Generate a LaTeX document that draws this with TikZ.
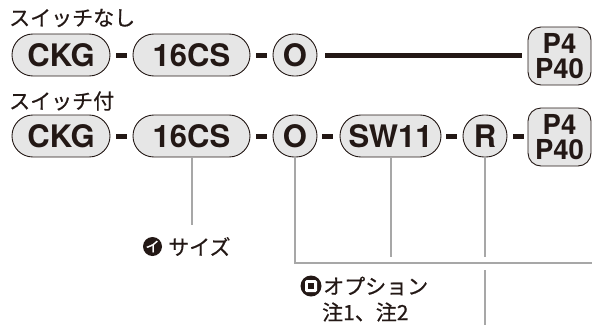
\documentclass[tikz,border=0pt]{standalone}
\usepackage{fontspec}
\setmainfont{TeX Gyre Heros}
\newfontfamily\jp{Noto Sans CJK JP}[FakeBold=0.6]
\newfontfamily\jpicon{Noto Sans CJK JP}[FakeBold=1.5]
\definecolor{ink}{HTML}{231815}
\definecolor{pillfill}{HTML}{E6E6E6}
\definecolor{guide}{HTML}{A7A7A7}
\tikzset{
  pill/.style={draw=ink, line width=0.9pt, fill=pillfill, rounded corners=20.9pt,
    minimum height=42pt, inner sep=0pt, text=ink,
    font=\bfseries\fontsize{31}{31}\selectfont},
  pbox/.style={draw=ink, line width=0.9pt, fill=pillfill, rounded corners=13pt,
    minimum width=63pt, minimum height=58pt, inner sep=0pt, align=center, text=ink,
    font=\bfseries\fontsize{27.5}{25.5}\selectfont},
  dashbar/.style={fill=ink, minimum width=11pt, minimum height=5pt, inner sep=0pt},
  gline/.style={draw=guide, line width=2pt},
  jptext/.style={font=\jp\fontsize{21}{21}\selectfont, text=ink, inner sep=0pt, anchor=west},
}
\begin{document}
\begin{tikzpicture}[x=1pt,y=-1pt]
\useasboundingbox (0,0) rectangle (592,325);
% titles
\node[jptext] (t1) at (9,18) {スイッチなし};
\node[jptext] (t2) at (9,101) {スイッチ付};
% row 1
\node[pill, minimum width=98pt] (c1) at (61,55) {CKG};
\node[dashbar] (d11) at (121.5,55) {};
\node[pill, minimum width=117pt] (s1) at (191.5,55) {16CS};
\node[dashbar] (d12) at (261,55) {};
\node[pill, minimum width=44pt] (o1) at (295,55) {O};
\node[pbox] (p1) at (559.5,56) {P4\\P40};
\draw[ink, line width=5pt, shorten <=8pt, shorten >=6pt] (o1.east) -- (o1.east -| p1.west);
% row 2
\node[pill, minimum width=98pt] (c2) at (61,136) {CKG};
\node[dashbar] (d21) at (121.5,136) {};
\node[pill, minimum width=117pt] (s2) at (191.5,136) {16CS};
\node[dashbar] (d22) at (261,136) {};
\node[pill, minimum width=44pt] (o2) at (295,136) {O};
\node[dashbar] (d23) at (327.5,136) {};
\node[pill, minimum width=101pt] (w2) at (390.5,136) {SW11};
\node[dashbar] (d24) at (451,136) {};
\node[pill, minimum width=44pt] (r2) at (485,136) {R};
\node[dashbar] (d25) at (518,136) {};
\node[pbox] (p2) at (559.5,137) {P4\\P40};
% guide lines
\coordinate (sEnd) at (0,225);
\coordinate (hLine) at (592,263);
\coordinate (gapTop) at (0,257);
\coordinate (gapBot) at (0,270);
\coordinate (bottom) at (0,325);
\draw[gline] (s2.south) -- (s2.south |- sEnd);
\draw[gline] (o2.south) |- (hLine);
\draw[gline] (w2.south) -- (w2.south |- gapTop);
\draw[gline] (r2.south) -- (r2.south |- gapTop);
\draw[gline] (r2.south |- gapBot) -- (r2.south |- bottom);
% label i
\node[circle, fill=ink, minimum size=19pt, inner sep=0pt, text=white,
  font=\jpicon\fontsize{14}{14}\selectfont] (iicon) at (152.5,246.5) {イ};
\node[jptext] (isize) at (168,246.5) {サイズ};
% label ro
\node[circle, fill=ink, minimum size=21pt, inner sep=0pt] (roicon) at (311,286) {};
\node[fill=white, minimum size=12pt, inner sep=0pt, rounded corners=1.5pt] (rosq) at (roicon) {};
\node[fill=ink, minimum size=6pt, inner sep=0pt] (rosqin) at (roicon) {};
\node[jptext] (opt) at (323,286) {オプション};
\node[jptext] (note) at (322,312) {注1、注2};
\end{tikzpicture}
\end{document}
